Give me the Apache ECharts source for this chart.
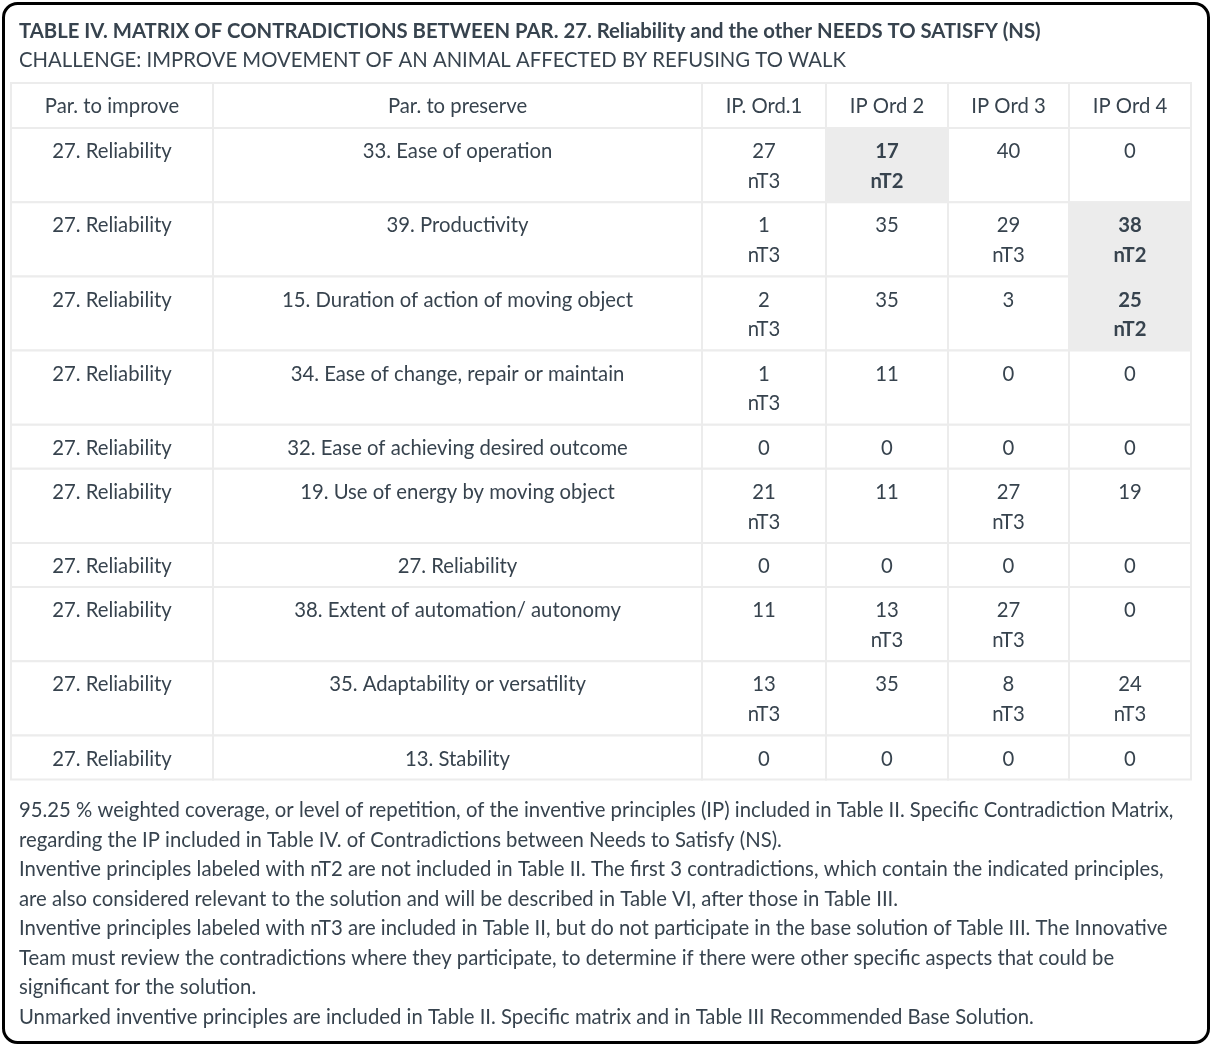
<!DOCTYPE html>
<html>
<head>
<meta charset="utf-8">
<script src="https://cdn.jsdelivr.net/npm/echarts@6/dist/echarts.min.js"></script>
<style>
  html, body { margin: 0; padding: 0; background: #fff; }
  #main { width: 1214px; height: 1048px; }
</style>
</head>
<body>
<div id="main"></div>
<script>
// table data
var headers = ['Par. to improve', 'Par. to preserve', 'IP. Ord.1', 'IP Ord 2', 'IP Ord 3', 'IP Ord 4']
var improve = ['27. Reliability', '27. Reliability', '27. Reliability', '27. Reliability', '27. Reliability',
  '27. Reliability', '27. Reliability', '27. Reliability', '27. Reliability', '27. Reliability']
var preserve = ['33. Ease of operation', '39. Productivity', '15. Duration of action of moving object',
  '34. Ease of change, repair or maintain', '32. Ease of achieving desired outcome',
  '19. Use of energy by moving object', '27. Reliability', '38. Extent of automation/ autonomy',
  '35. Adaptability or versatility', '13. Stability']
var ipOrd1 = [27, 1, 2, 1, 0, 21, 0, 11, 13, 0]
var ipOrd1Tag = ['nT3', 'nT3', 'nT3', 'nT3', '', 'nT3', '', '', 'nT3', '']
var ipOrd2 = [17, 35, 35, 11, 0, 11, 0, 13, 35, 0]
var ipOrd2Tag = ['nT2', '', '', '', '', '', '', 'nT3', '', '']
var ipOrd3 = [40, 29, 3, 0, 0, 27, 0, 27, 8, 0]
var ipOrd3Tag = ['', 'nT3', '', '', '', 'nT3', '', 'nT3', 'nT3', '']
var ipOrd4 = [0, 38, 25, 0, 0, 19, 0, 0, 24, 0]
var ipOrd4Tag = ['', 'nT2', 'nT2', '', '', '', '', '', 'nT3', '']

var titleText = 'TABLE IV. MATRIX OF CONTRADICTIONS BETWEEN PAR. 27. Reliability and the other NEEDS TO SATISFY (NS)'
var subText = 'CHALLENGE: IMPROVE MOVEMENT OF AN ANIMAL AFFECTED BY REFUSING TO WALK'
var notes = [
  '95.25 % weighted coverage, or level of repetition, of the inventive principles (IP) included in Table II. Specific Contradiction Matrix,',
  'regarding the IP included in Table IV. of Contradictions between Needs to Satisfy (NS).',
  'Inventive principles labeled with nT2 are not included in Table II. The first 3 contradictions, which contain the indicated principles,',
  'are also considered relevant to the solution and will be described in Table VI, after those in Table III.',
  'Inventive principles labeled with nT3 are included in Table II, but do not participate in the base solution of Table III. The Innovative',
  'Team must review the contradictions where they participate, to determine if there were other specific aspects that could be',
  'significant for the solution.',
  'Unmarked inventive principles are included in Table II. Specific matrix and in Table III Recommended Base Solution.'
]

// layout
var colW = [202, 489, 124, 122, 121, 122]
var headerH = 45
var textColor = '#37434e'
var font = 'Lato'
var fs = 20.3

var myChart = echarts.init(document.getElementById('main'))

var ords = [ipOrd1, ipOrd2, ipOrd3, ipOrd4]
var tags = [ipOrd1Tag, ipOrd2Tag, ipOrd3Tag, ipOrd4Tag]

// build rows
var rows = [{ cells: headers.map(function (h) { return { text: h, hl: false } }), h: headerH }]
for (var i = 0; i < improve.length; i++) {
  var cells = [{ text: improve[i], hl: false }, { text: preserve[i], hl: false }]
  var lines = 1
  for (var k = 0; k < 4; k++) {
    var t = tags[k][i]
    if (t) lines = 2
    cells.push({ text: t ? ords[k][i] + '\n' + t : String(ords[k][i]), hl: t === 'nT2' })
  }
  rows.push({ cells: cells, h: lines === 2 ? 74.2 : 44 })
}

var cellData = []
var y = 0
rows.forEach(function (r) {
  var x = 0
  r.cells.forEach(function (c, ci) {
    cellData.push({ value: [x, y, x + colW[ci], y + r.h], text: c.text, hl: c.hl })
    x += colW[ci]
  })
  y += r.h
})
var totalW = colW.reduce(function (a, b) { return a + b }, 0)
var totalH = y

var option = {
  animation: false,
  title: {
    text: titleText,
    subtext: subText,
    left: 19,
    top: 19,
    itemGap: 5,
    padding: 0,
    textStyle: { fontFamily: font, fontSize: fs, fontWeight: 'bold', color: textColor, lineHeight: 24 },
    subtextStyle: { fontFamily: font, fontSize: fs, color: textColor, lineHeight: 24 }
  },
  grid: { left: 11, top: 83, width: totalW, height: totalH },
  xAxis: { type: 'value', min: 0, max: totalW, show: false },
  yAxis: { type: 'value', min: 0, max: totalH, inverse: true, show: false },
  graphic: [
    {
      type: 'rect',
      shape: { x: 3.5, y: 3.5, width: 1205, height: 1039, r: 14 },
      style: { fill: 'none', stroke: '#000', lineWidth: 3 },
      z: 10
    },
    {
      type: 'text',
      left: 19,
      top: 796,
      style: {
        text: notes.join('\n'),
        font: fs + 'px Lato',
        fill: textColor,
        lineHeight: 29.5
      }
    }
  ],
  series: [
    {
      type: 'custom',
      clip: false,
      data: cellData,
      encode: { x: [0, 2], y: [1, 3] },
      renderItem: function (params, api) {
        var p0 = api.coord([api.value(0), api.value(1)])
        var p1 = api.coord([api.value(2), api.value(3)])
        var d = cellData[params.dataIndex]
        return {
          type: 'group',
          children: [
            {
              type: 'rect',
              shape: { x: p0[0], y: p0[1], width: p1[0] - p0[0], height: p1[1] - p0[1] },
              style: { fill: d.hl ? '#ececec' : '#fff', stroke: '#ececec', lineWidth: 2 }
            },
            {
              type: 'text',
              x: (p0[0] + p1[0]) / 2,
              y: p0[1] + 9,
              style: {
                text: d.text,
                align: 'center',
                verticalAlign: 'top',
                fontFamily: font,
                fontSize: fs,
                fontWeight: d.hl ? 'bold' : 'normal',
                lineHeight: 29.5,
                fill: textColor
              }
            }
          ]
        }
      }
    }
  ]
}
myChart.setOption(option)
</script>
</body>
</html>
